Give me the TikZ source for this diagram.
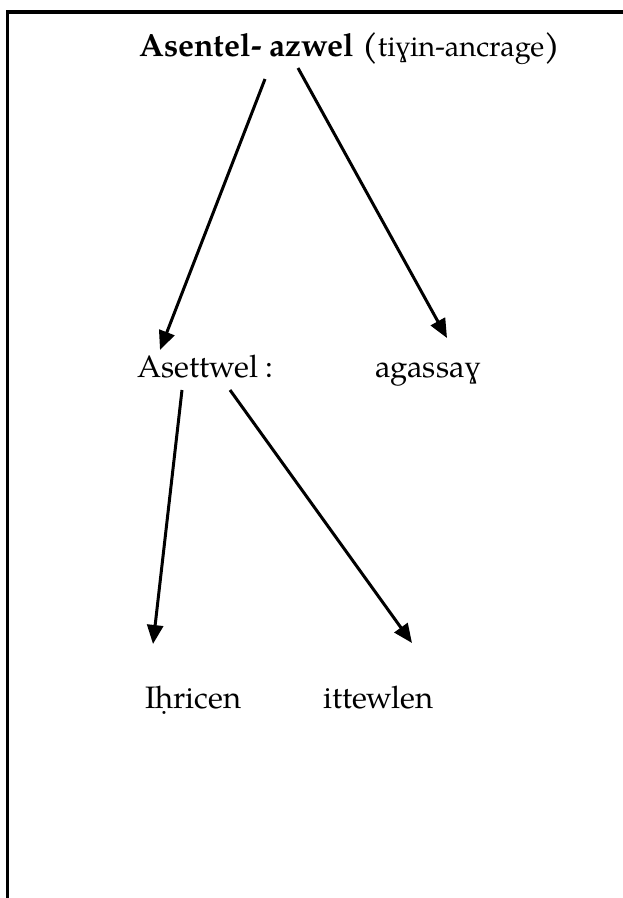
\documentclass[tikz,border=0pt]{standalone}
\usepackage{fontspec}
\setmainfont{TeX Gyre Pagella}
\newfontfamily\gamfont{Liberation Serif}
\usetikzlibrary{arrows.meta}
\tikzset{
  lbl/.style={anchor=base west, inner sep=0pt, font=\fontsize{31}{36}\selectfont},
  arr/.style={line width=3pt, -{Triangle[length=19pt,width=16pt]}},
  frame/.style={line width=3.5pt}
}
\begin{document}
\begin{tikzpicture}[x=1pt,y=-1pt]
\useasboundingbox (0,0) rectangle (623,898);
\coordinate (fl) at (7.5,898);
\coordinate (fc) at (7.5,12);
\coordinate (fr) at (623,12);
\draw[frame] (fl) -- (fc) -- (fr);
\node[lbl] (title) at (139,56) {{\fontsize{32}{36}\selectfont\bfseries Asentel- azwel (}{\fontsize{29}{36}\selectfont ti{\gamfont ɣ}in-ancrage}{\fontsize{32}{36}\selectfont\bfseries )}};
\node[lbl] (aset) at (137,377) {Asettwel :};
\node[lbl] (agas) at (375,377) {agassa{\gamfont ɣ}};
\node[lbl] (ihri) at (145,708) {I\d{h}ricen};
\node[lbl] (itte) at (323,708) {ittewlen};
\coordinate (s1) at (265,79);
\coordinate (e1) at (160,350);
\coordinate (s2) at (298,68);
\coordinate (e2) at (447,338);
\coordinate (s3) at (182,390);
\coordinate (e3) at (153,644);
\coordinate (s4) at (230,390);
\coordinate (e4) at (412,643);
\draw[arr] (s1) -- (e1);
\draw[arr] (s2) -- (e2);
\draw[arr] (s3) -- (e3);
\draw[arr] (s4) -- (e4);
\end{tikzpicture}
\end{document}
